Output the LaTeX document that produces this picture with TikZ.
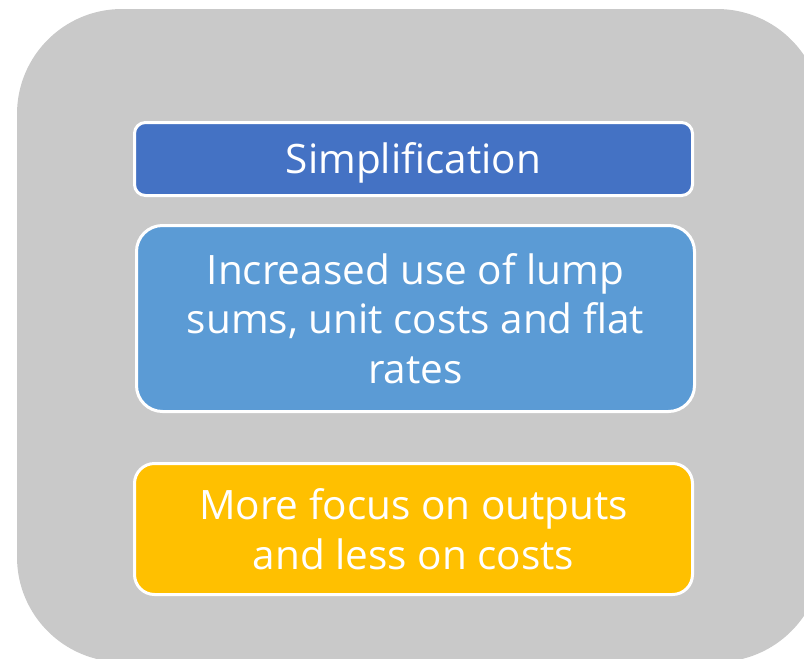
\documentclass[tikz,border=0pt]{standalone}
\usepackage{fontspec}
\setmainfont{Open Sans}
\definecolor{panelgray}{HTML}{C9C9C9}
\definecolor{simpblue}{HTML}{4472C4}
\definecolor{lumpblue}{HTML}{5B9BD5}
\definecolor{focusgold}{HTML}{FFC000}
\begin{document}
\begin{tikzpicture}[x=1pt,y=-1pt,
  box/.style={draw=white, line width=3pt, rounded corners=#1, text=white,
    align=center, inner sep=0pt, font=\fontsize{40.5}{49.5}\selectfont}]
   \useasboundingbox (0,0) rectangle (804,659);
   \begin{scope}
   \clip (0,0) rectangle (804,659);
   \fill[panelgray, rounded corners=105pt] (17,9) rectangle (822,662);
   \end{scope}

   \node[box=11pt, fill=simpblue, minimum width=558pt, minimum height=73pt,
     text depth=2pt] (simp) at (413.5,159) {Simplification};
   \node[box=26pt, fill=lumpblue, minimum width=558pt, minimum height=186pt]
     (lump) at (415.5,318.5) {Increased use of lump\\sums, unit costs and flat\\rates};
   \node[box=20pt, fill=focusgold, minimum width=558pt, minimum height=131pt]
     (focus) at (413.5,529) {More focus on outputs\\and less on costs};
 \end{tikzpicture}
\end{document}
